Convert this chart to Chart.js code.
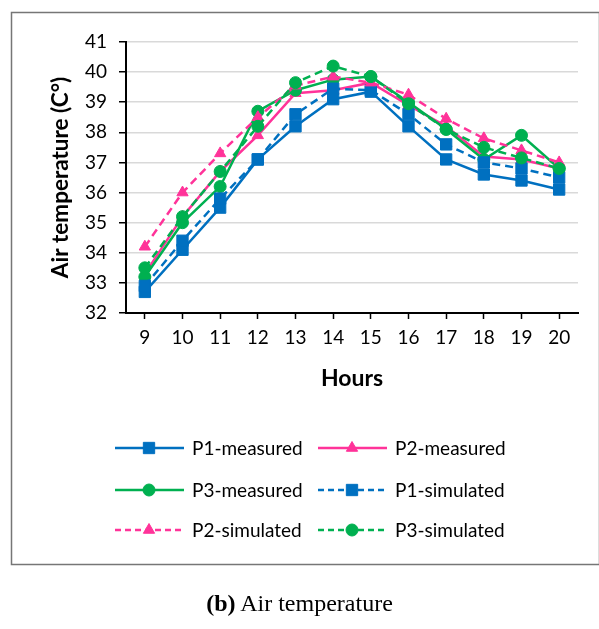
<!DOCTYPE html>
<html><head><meta charset="utf-8">
<script src="https://cdn.jsdelivr.net/npm/chart.js@4.4.0/dist/chart.umd.min.js"></script>
<style>
html,body{margin:0;padding:0;background:#fff;}
#wrap{position:relative;width:599px;height:629px;overflow:hidden;}
canvas{position:absolute;left:0;top:0;}
#cap{position:absolute;left:0;width:599px;top:588px;text-align:center;font-family:"Liberation Serif","Times New Roman",serif;font-size:24px;color:#000;line-height:30px;}
</style></head>
<body><div id="wrap"><canvas id="c" width="599" height="629"></canvas><div id="cap"><b>(b)</b> Air temperature</div></div>
<script>
// ---- data ----
const hours = ['9','10','11','12','13','14','15','16','17','18','19','20'];
const p1Measured  = [32.7, 34.1, 35.5, 37.1, 38.2, 39.1, 39.35, 38.2, 37.1, 36.6, 36.4, 36.1];
const p2Measured  = [33.3, 35.2, 36.7, 37.9, 39.3, 39.4, 39.65, 38.9, 38.2, 37.2, 37.1, 36.8];
const p3Measured  = [33.2, 35.0, 36.2, 38.7, 39.4, 39.75, 39.85, 39.0, 38.1, 37.1, 37.9, 36.8];
const p1Simulated = [32.9, 34.4, 35.8, 37.1, 38.6, 39.45, 39.4, 38.6, 37.6, 37.0, 36.8, 36.5];
const p2Simulated = [34.2, 36.0, 37.3, 38.5, 39.55, 39.85, 39.65, 39.25, 38.45, 37.8, 37.4, 37.0];
const p3Simulated = [33.5, 35.2, 36.7, 38.2, 39.65, 40.2, 39.85, 38.95, 38.1, 37.5, 37.15, 36.8];
const seriesLabels = ['P1-measured','P2-measured','P3-measured','P1-simulated','P2-simulated','P3-simulated'];
const yMin = 32, yMax = 41, yStep = 1;
const xTitle = 'Hours';
const yTitle = 'Air temperature (C°)';

const BLUE = '#0070C0', PINK = '#FF3399', GREEN = '#00B050';
const FONT = 'Lato';
Chart.defaults.font.family = FONT;
Chart.defaults.color = '#000';

function mk(label, data, color, style, radius, dashed, order) {
  return {
    label, data, order,
    borderColor: color, backgroundColor: color,
    borderWidth: 2.5, borderDash: dashed ? [8,5] : [],
    pointStyle: style, pointRadius: radius, pointHoverRadius: radius,
    pointBackgroundColor: color, pointBorderColor: color, pointBorderWidth: 1,
    tension: 0, fill: false
  };
}

const datasets = [
  mk(seriesLabels[0], p1Measured,  BLUE,  'rect',     8,   false, 6),
  mk(seriesLabels[1], p2Measured,  PINK,  'triangle', 6.5, false, 5),
  mk(seriesLabels[2], p3Measured,  GREEN, 'circle',   6,   false, 4),
  mk(seriesLabels[3], p1Simulated, BLUE,  'rect',     8,   true,  3),
  mk(seriesLabels[4], p2Simulated, PINK,  'triangle', 6.5, true,  2),
  mk(seriesLabels[5], p3Simulated, GREEN, 'circle',   6,   true,  1)
];

const framePlugin = {
  id: 'frame',
  beforeDraw(chart) {
    const ctx = chart.ctx;
    ctx.save();
    ctx.fillStyle = '#fff';
    ctx.fillRect(0, 0, chart.width, chart.height);
    ctx.strokeStyle = '#767676';
    ctx.lineWidth = 1.5;
    ctx.strokeRect(11.5, 12.5, 588, 552);
    ctx.restore();
  }
};

const legendPlugin = {
  id: 'customLegend',
  afterDraw(chart) {
    const ctx = chart.ctx;
    const cols = [115, 318];
    const rows = [448, 490, 530];
    chart.data.datasets.forEach((ds, i) => {
      const x0 = cols[i % 2], y = rows[Math.floor(i / 2)];
      ctx.save();
      ctx.strokeStyle = ds.borderColor;
      ctx.lineWidth = ds.borderWidth;
      ctx.setLineDash(ds.borderDash.length ? [6,4] : []);
      ctx.beginPath(); ctx.moveTo(x0, y); ctx.lineTo(x0 + 69, y); ctx.stroke();
      ctx.setLineDash([]);
      ctx.fillStyle = ds.pointBackgroundColor;
      ctx.strokeStyle = ds.pointBorderColor;
      ctx.lineWidth = 1;
      Chart.helpers.drawPoint(ctx, {pointStyle: ds.pointStyle, radius: ds.pointRadius, rotation: 0, borderWidth: 1}, x0 + 34, y);
      ctx.fillStyle = '#000';
      ctx.font = '19px ' + FONT;
      ctx.textBaseline = 'middle';
      ctx.textAlign = 'left';
      ctx.fillText(ds.label, x0 + 77, y + 1);
      ctx.restore();
    });
  }
};

new Chart(document.getElementById('c'), {
  type: 'line',
  data: { labels: hours, datasets },
  options: {
    responsive: false,
    animation: false,
    layout: { padding: { left: 30, top: 42, right: 21, bottom: 236 } },
    plugins: { legend: { display: false }, tooltip: { enabled: false } },
    scales: {
      x: {
        offset: true,
        grid: { drawOnChartArea: false, drawTicks: true, tickLength: 6, tickColor: '#000', tickWidth: 1.5, offset: false },
        border: { color: '#000', width: 2 },
        ticks: { font: { size: 19 }, color: '#000', padding: 7, maxRotation: 0, autoSkip: false },
        title: { display: true, text: xTitle, font: { size: 23, weight: 'bold' }, color: '#000', padding: { top: 0, bottom: 1 } },
        afterFit(scale) { scale.height = 80; }
      },
      y: {
        min: yMin, max: yMax,
        grid: { color: '#d9d9d9', lineWidth: 1.5, tickLength: 7, tickColor: '#000', tickWidth: 1.5 },
        border: { color: '#000', width: 2 },
        ticks: { stepSize: yStep, font: { size: 19 }, color: '#000', padding: 12 },
        title: { display: true, text: yTitle, font: { size: 22.5, weight: 'bold' }, color: '#000', padding: { top: 17, bottom: 0 } },
        afterFit(scale) { scale.width = 96; }
      }
    }
  },
  plugins: [framePlugin, legendPlugin]
});
</script>
</body></html>
